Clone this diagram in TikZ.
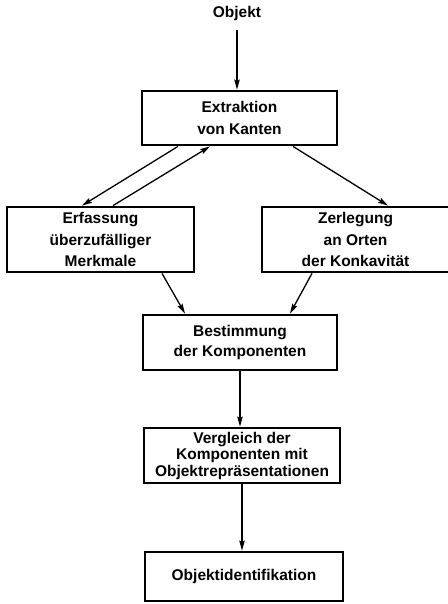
\documentclass[tikz,border=0pt]{standalone}
\usepackage{fontspec}
\setmainfont{Liberation Sans}
\usetikzlibrary{arrows.meta,calc}

\tikzset{
  stagebox/.style={draw, line width=2.8pt, rectangle, inner sep=0pt,
    align=center, font=\bfseries\fontsize{15.5}{21}\selectfont},
  flow/.style={line width=1.3pt,
    -{Stealth[length=10pt,width=5.5pt,inset=1.5pt]}},
  label/.style={inner sep=0pt, font=\bfseries\fontsize{15.5}{19}\selectfont}
}

\begin{document}
\begin{tikzpicture}[x=1pt,y=-1pt]
  % canvas
  \fill[white] (0,0) rectangle (447,604);
  \useasboundingbox (0,0) rectangle (447,604);

  % input label
  \node[label] (obj) at (237,13) {Objekt};

  % processing stages
  \node[stagebox, minimum width=195pt, minimum height=54pt,
        font=\bfseries\fontsize{15.5}{22}\selectfont]
    (ext) at (239.5,118) {Extraktion\\von Kanten};
  \node[stagebox, minimum width=187pt, minimum height=65pt,
        font=\bfseries\fontsize{15.5}{21.5}\selectfont]
    (erf) at (100.5,239.5) {Erfassung\\überzufälliger\\Merkmale};
  \node[stagebox, minimum width=187pt, minimum height=65pt,
        font=\bfseries\fontsize{15.5}{21.5}\selectfont]
    (zer) at (355.5,239.5) {Zerlegung\\an Orten\\der Konkavität};
  \node[stagebox, minimum width=194pt, minimum height=55pt,
        font=\bfseries\fontsize{15.5}{20}\selectfont]
    (best) at (240,342.5) {Bestimmung\\der Komponenten};
  \node[stagebox, minimum width=196pt, minimum height=55pt,
        font=\bfseries\fontsize{15.5}{16.5}\selectfont]
    (verg) at (242,455.5) {Vergleich der\\Komponenten mit\\Objektrepräsentationen};
  \node[stagebox, minimum width=198pt, minimum height=49pt]
    (oid) at (244,576.5) {Objektidentifikation};

  % connectors
  \draw[flow] ($(obj.south)+(0,10)$) -- (obj.south |- ext.north);
  \draw[flow] ($(ext.south)+(-61.5,0)$) -- ($(erf.north)+(-18.5,0)$);
  \draw[flow] ($(erf.north)+(12.5,0)$) -- ($(ext.south)+(-29.5,0)$);
  \draw[flow] ($(ext.south)+(53.5,0)$) -- ($(zer.north)+(32.5,0)$);
  \draw[flow] ($(erf.south)+(61.5,0)$) -- ($(best.north)+(-55,0)$);
  \draw[flow] ($(zer.south)+(-43.5,0)$) -- ($(best.north)+(50,0)$);
  \draw[flow] (best.south) -- (best.south |- verg.north);
  \draw[flow] (verg.south) -- (verg.south |- oid.north);
\end{tikzpicture}
\end{document}
